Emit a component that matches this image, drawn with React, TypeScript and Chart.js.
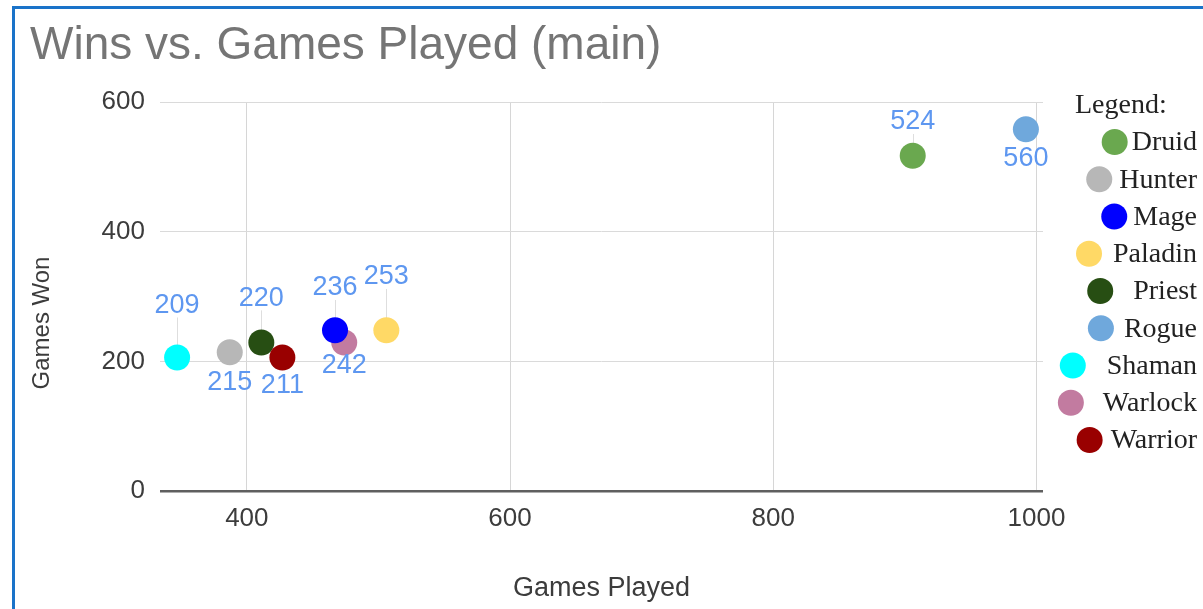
import React, { useEffect, useRef } from "react";
import { Chart, registerables } from "chart.js";

Chart.register(...registerables);

// ---- data ----
const classes = ["Druid", "Hunter", "Mage", "Paladin", "Priest", "Rogue", "Shaman", "Warlock", "Warrior"];
const gamesPlayed = [906, 387, 467, 506, 411, 992, 347, 474, 427];
const gamesWon = [517, 214, 248, 248, 229, 558, 206, 229, 206];
const winLabels = [524, 215, 236, 253, 220, 560, 209, 242, 211];
const classColors = ["#6aa84f", "#b7b7b7", "#0000ff", "#ffd966", "#274e13", "#6fa8dc", "#00ffff", "#c27ba0", "#990000"];
const xTicks = [400, 600, 800, 1000];
const yTicks = [0, 200, 400, 600];

const chartTitle = "Wins vs. Games Played (main)";
const xTitle = "Games Played";
const yTitle = "Games Won";
const legendTitle = "Legend:";

const SANS = "'Liberation Sans', Arial, sans-serif";
const SERIF = "'Liberation Serif', 'Times New Roman', serif";

const labelAbove: Record<string, boolean> = {
  Druid: true, Hunter: false, Mage: true, Paladin: true, Priest: true,
  Rogue: false, Shaman: true, Warlock: false, Warrior: false,
};
const legendGap: Record<string, number> = {
  Druid: 17, Hunter: 20, Mage: 19, Paladin: 24, Priest: 33,
  Rogue: 23, Shaman: 34, Warlock: 32, Warrior: 21,
};

function labelPos(chart: any, i: number) {
  const xs = chart.scales.x;
  const ys = chart.scales.y;
  const px = xs.getPixelForValue(gamesPlayed[i]);
  const base = ys.getPixelForValue(winLabels[i]);
  let ly = labelAbove[classes[i]] ? base - 50 : base + 31;
  ly = Math.max(ly, chart.chartArea.top + 20);
  return { px, ly };
}

const overlayPlugin = {
  id: "overlay",
  beforeDatasetsDraw(chart: any) {
    const ctx = chart.ctx;
    ctx.save();
    ctx.strokeStyle = "rgba(0,0,0,0.13)";
    ctx.lineWidth = 1;
    for (let i = 0; i < classes.length; i++) {
      if (!labelAbove[classes[i]]) continue;
      const { px, ly } = labelPos(chart, i);
      const py = chart.scales.y.getPixelForValue(gamesWon[i]);
      if (py - (ly + 12) > 4) {
        ctx.beginPath();
        ctx.moveTo(Math.round(px) + 0.5, ly + 12);
        ctx.lineTo(Math.round(px) + 0.5, py);
        ctx.stroke();
      }
    }
    ctx.restore();
  },
  afterDatasetsDraw(chart: any) {
    const ctx = chart.ctx;
    ctx.save();
    ctx.font = `27px ${SANS}`;
    ctx.fillStyle = "#5e97f0";
    ctx.textAlign = "center";
    ctx.textBaseline = "middle";
    for (let i = 0; i < classes.length; i++) {
      const { px, ly } = labelPos(chart, i);
      ctx.fillText(String(winLabels[i]), px, ly);
    }
    ctx.restore();
  },
  afterDraw(chart: any) {
    const ctx = chart.ctx;
    const area = chart.chartArea;
    ctx.save();
    // chart title
    ctx.font = `46px ${SANS}`;
    ctx.fillStyle = "#757575";
    ctx.textAlign = "left";
    ctx.textBaseline = "alphabetic";
    ctx.fillText(chartTitle, 30, 59);
    // x axis title
    ctx.font = `27px ${SANS}`;
    ctx.fillStyle = "#3c3c3c";
    ctx.textAlign = "center";
    ctx.textBaseline = "middle";
    ctx.fillText(xTitle, (area.left + area.right) / 2, 589);
    // y axis title
    ctx.save();
    ctx.translate(42, 323);
    ctx.rotate(-Math.PI / 2);
    ctx.font = `24px ${SANS}`;
    ctx.fillText(yTitle, 0, 0);
    ctx.restore();
    // legend
    ctx.font = `28px ${SERIF}`;
    ctx.fillStyle = "#222222";
    ctx.textAlign = "left";
    ctx.textBaseline = "alphabetic";
    ctx.fillText(legendTitle, 1075, 113);
    const right = 1197;
    for (let i = 0; i < classes.length; i++) {
      const cy = 142 + i * 37.25;
      const w = ctx.measureText(classes[i]).width;
      const tx = right - w;
      ctx.textAlign = "left";
      ctx.textBaseline = "middle";
      ctx.fillStyle = "#222222";
      ctx.fillText(classes[i], tx, cy + 1);
      ctx.beginPath();
      ctx.fillStyle = classColors[i];
      ctx.arc(tx - legendGap[classes[i]], cy, 13, 0, Math.PI * 2);
      ctx.fill();
    }
    ctx.restore();
  },
};

export default function App() {
  const canvasRef = useRef<HTMLCanvasElement | null>(null);

  useEffect(() => {
    if (!canvasRef.current) return;
    const datasets = classes.map((name, i) => ({
      label: name,
      data: [{ x: gamesPlayed[i], y: gamesWon[i] }],
      backgroundColor: classColors[i],
      borderWidth: 0,
      pointRadius: 13,
      pointHoverRadius: 13,
      order: name === "Warrior" ? -1 : 0,
    }));
    const chart = new Chart(canvasRef.current, {
      type: "scatter",
      data: { datasets },
      plugins: [overlayPlugin],
      options: {
        animation: false,
        responsive: true,
        maintainAspectRatio: false,
        events: [],
        layout: { padding: { top: 102, right: 160, left: 0, bottom: 0 } },
        plugins: {
          legend: { display: false },
          title: { display: false },
          tooltip: { enabled: false },
        },
        scales: {
          x: {
            type: "linear",
            min: 334,
            max: 1005,
            afterBuildTicks: (s: any) => {
              s.ticks = xTicks.map((v) => ({ value: v }));
            },
            afterFit: (s: any) => {
              s.height = 118;
            },
            border: { display: false },
            grid: { color: "#d6d6d6", lineWidth: 1, drawTicks: false },
            ticks: {
              color: "#3c3c3c",
              font: { family: SANS, size: 26 },
              padding: 12,
              maxRotation: 0,
              autoSkip: false,
              callback: (v: any) => String(v),
            },
          },
          y: {
            min: 0,
            max: 600,
            afterBuildTicks: (s: any) => {
              s.ticks = yTicks.map((v) => ({ value: v }));
            },
            afterFit: (s: any) => {
              s.width = 160;
            },
            border: { display: false },
            grid: {
              color: (c: any) => (c.tick && c.tick.value === 0 ? "#5f5f5f" : "#dadada"),
              lineWidth: (c: any) => (c.tick && c.tick.value === 0 ? 2.5 : 1),
              drawTicks: false,
            },
            ticks: {
              color: "#3c3c3c",
              font: { family: SANS, size: 26 },
              padding: 15,
              autoSkip: false,
              callback: (v: any) => String(v),
            },
          },
        },
      },
    });
    return () => chart.destroy();
  }, []);

  return (
    <div style={{ position: "absolute", left: 0, top: 0, width: 1203, height: 609, background: "#ffffff", overflow: "hidden" }}>
      <div style={{ position: "absolute", left: 0, top: 0, width: 1203, height: 609 }}>
        <canvas ref={canvasRef} />
      </div>
      <div
        style={{
          position: "absolute",
          left: 12,
          top: 6,
          right: -10,
          bottom: -10,
          borderTop: "3px solid #1a73c9",
          borderLeft: "3px solid #1a73c9",
          pointerEvents: "none",
        }}
      />
    </div>
  );
}
